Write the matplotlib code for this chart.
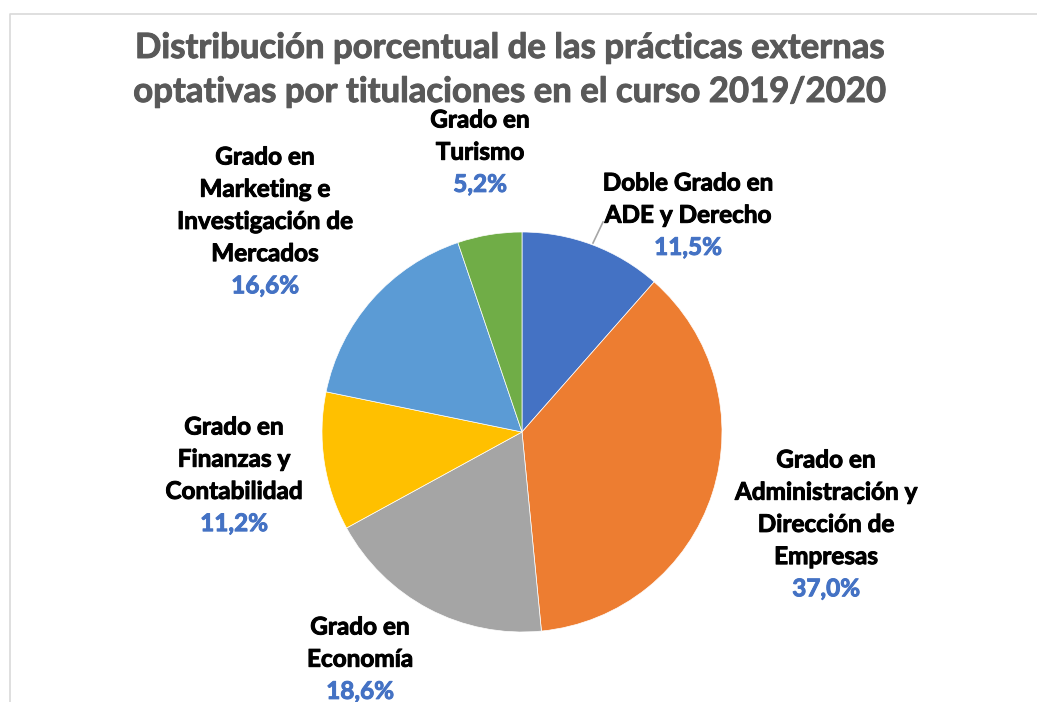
import matplotlib
matplotlib.use("Agg")
import matplotlib.pyplot as plt
import matplotlib.patheffects as pe
from matplotlib.lines import Line2D

# Datos del gráfico
titulaciones = ['Doble Grado en\nADE y Derecho',
                'Grado en\nAdministración y\nDirección de\nEmpresas',
                'Grado en\nEconomía',
                'Grado en\nFinanzas y\nContabilidad',
                'Grado en\nMarketing e\nInvestigación de\nMercados',
                'Grado en\nTurismo']
porcentajes = [11.5, 37.0, 18.6, 11.2, 16.6, 5.2]
colores = ['#4472C4', '#ED7D31', '#A5A5A5', '#FFC000', '#5B9BD5', '#70AD47']

# Posición (en píxeles) del centro de cada etiqueta: x, y de la primera línea
pos_etiquetas = [(688, 183), (826, 460), (360, 627), (234, 427), (265, 157), (480, 120)]

plt.rcParams['font.family'] = ['Lato', 'DejaVu Sans']

W, H = 1037, 702
fig = plt.figure(figsize=(W / 100, H / 100), dpi=100)
ax = fig.add_axes([0, 0, 1, 1])

# Marco del gráfico
ax.add_line(Line2D([10, 10, W], [0, H - 14, H - 14], color='#D9D9D9', lw=1.2))

# Tarta
cx, cy, r = 522, H - 432, 200
ax.pie(porcentajes, colors=colores, startangle=90, counterclock=False,
       center=(cx, cy), radius=r, frame=True,
       wedgeprops=dict(edgecolor='white', linewidth=0.5))
ax.set_xlim(0, W)
ax.set_ylim(0, H)
ax.axis('off')


def texto(x, y, s, size, color):
    # el trazo fino engorda un poco la negrita de Lato (más parecida a Calibri)
    ax.text(x, y, s, ha='center', va='center', fontsize=size, fontweight='bold',
            color=color, path_effects=[pe.withStroke(linewidth=0.7, foreground=color)])


# Título
texto(510, H - 48, 'Distribución porcentual de las prácticas externas', 25, '#595959')
texto(510, H - 92, 'optativas por titulaciones en el curso 2019/2020', 25, '#595959')

# Etiquetas
paso = 32.2
for nombre, pct, (px, py) in zip(titulaciones, porcentajes, pos_etiquetas):
    lineas = nombre.split('\n')
    for i, linea in enumerate(lineas):
        texto(px, H - (py + i * paso), linea, 17.5, 'black')
    texto(px, H - (py + len(lineas) * paso), f'{pct:.1f}%'.replace('.', ','), 17.5, '#4472C4')

# Línea guía de la etiqueta del doble grado
ax.add_line(Line2D([593, 603], [H - 243, H - 222], color='#A6A6A6', lw=1.2))

fig.savefig('out.png', dpi=100)
